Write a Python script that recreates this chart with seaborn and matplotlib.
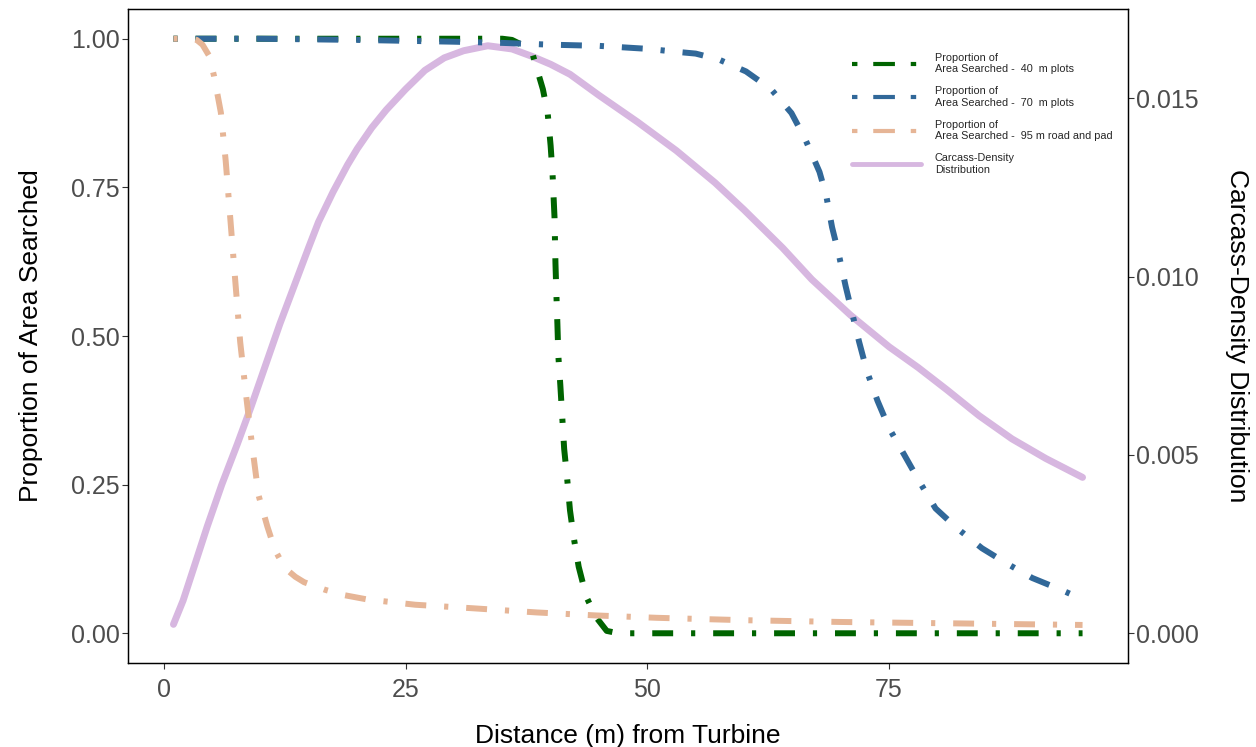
import pandas as pd
import seaborn as sns
from matplotlib import pyplot as plt
from matplotlib.lines import Line2D
import matplotlib.ticker as mtick

# Proportion of area searched, 40 m plots
x_40m = [1, 10, 20, 30, 35, 36, 37, 38.1, 39.2, 39.7, 40.0, 40.2, 40.4, 40.5, 40.6,
         40.7, 40.8, 41.0, 41.2, 41.4, 41.7, 42.0, 42.4, 42.9, 43.7, 44.7, 45.8, 47,
         60, 80, 95]
y_40m = [1.0, 1.0, 1.0, 1.0, 1.0, 0.998, 0.99, 0.976, 0.915, 0.874, 0.82, 0.772, 0.70,
         0.622, 0.568, 0.52, 0.466, 0.418, 0.364, 0.31, 0.262, 0.207, 0.16, 0.112,
         0.061, 0.027, 0.004, 0.0, 0.0, 0.0, 0.0]

# Proportion of area searched, 70 m plots
x_70m = [1, 10, 20, 30, 35, 40, 45, 50, 53, 55, 57.4, 60.2, 62.8, 64.9, 66.3, 67.8,
         68.5, 69.1, 69.8, 70.5, 71.2, 71.9, 72.7, 73.8, 75.0, 76.5, 78.1, 79.8, 82.0,
         84.6, 87.1, 89.8, 92.8, 95]
y_70m = [1.0, 1.0, 0.998, 0.995, 0.993, 0.99, 0.988, 0.983, 0.978, 0.975, 0.965, 0.945,
         0.915, 0.875, 0.832, 0.776, 0.736, 0.683, 0.637, 0.584, 0.537, 0.49, 0.441,
         0.391, 0.345, 0.302, 0.256, 0.21, 0.177, 0.143, 0.118, 0.093, 0.073, 0.057]

# Proportion of area searched, 95 m road and pad
x_95m = [1, 2, 3, 3.4, 4.0, 4.7, 5.2, 5.9, 6.4, 6.9, 7.4, 7.9, 8.6, 9.1, 9.8, 10.7,
         11.5, 12.5, 13.6, 14.5, 16.7, 18.7, 21, 26, 32, 38.6, 44.7, 51, 60, 70, 80, 95]
y_95m = [1.0, 1.0, 1.0, 0.998, 0.99, 0.971, 0.937, 0.876, 0.795, 0.693, 0.591, 0.49,
         0.388, 0.32, 0.232, 0.18, 0.14, 0.11, 0.095, 0.086, 0.073, 0.064, 0.057,
         0.048, 0.042, 0.035, 0.030, 0.026, 0.022, 0.019, 0.017, 0.014]

# Carcass-density distribution (right axis)
x_dens = [1, 2, 3, 4.5, 6, 7.6, 9, 10.5, 12, 13.5, 15, 16, 17.5, 19, 20, 21.5, 23, 25,
          27, 29, 31, 33.5, 36, 38, 40, 42, 45, 49, 53, 57, 60, 64, 67, 71, 75, 78, 81,
          84.3, 87.7, 91.2, 95]
y_dens = [0.00025, 0.00092, 0.00175, 0.00300, 0.00417, 0.00530, 0.00633, 0.00750,
          0.00867, 0.00975, 0.01083, 0.01153, 0.01237, 0.01313, 0.01358, 0.01417,
          0.01467, 0.01525, 0.01578, 0.01613, 0.01633, 0.01647, 0.01638, 0.01618,
          0.01595, 0.01567, 0.01508, 0.01433, 0.01353, 0.01263, 0.01187, 0.01080,
          0.00992, 0.00892, 0.00803, 0.00745, 0.00682, 0.00610, 0.00545, 0.00490,
          0.00437]

labels = ['Proportion of\nArea Searched -  40  m plots',
          'Proportion of\nArea Searched -  70  m plots',
          'Proportion of\nArea Searched -  95 m road and pad',
          'Carcass-Density\nDistribution']
colors = ['#006400', '#316899', '#E6B596', '#D7B7E0']

sec_scale = 60  # left axis value = density * 60

sns.set_theme(style='white')
plt.rcParams['font.family'] = ['Liberation Sans', 'DejaVu Sans']

fig = plt.figure(figsize=(12.56, 7.47), dpi=100)
ax = fig.add_axes([128 / 1256, 1 - 663 / 747, 1000 / 1256, 654 / 747])
ax2 = ax.twinx()

dotdash = (0, (0.7, 3.0, 3.5, 3.0))
series = [(x_40m, y_40m), (x_70m, y_70m), (x_95m, y_95m)]
for (xs, ys), col in zip(series, colors[:3]):
    df = pd.DataFrame({'x': xs, 'y': ys})
    sns.lineplot(data=df, x='x', y='y', ax=ax, color=col, linewidth=4.3,
                 linestyle=dotdash, estimator=None, sort=False)

dens_df = pd.DataFrame({'x': x_dens, 'y': y_dens})
sns.lineplot(data=dens_df, x='x', y='y', ax=ax2, color=colors[3], linewidth=5,
             estimator=None, sort=False)

# keep the dashed lines above the density curve
ax.set_zorder(ax2.get_zorder() + 1)
ax.patch.set_visible(False)

ax.set_xlim(-3.7, 99.7)
ax.set_ylim(-0.05, 1.05)
ax2.set_ylim(-0.05 / sec_scale, 1.05 / sec_scale)
ax.set_xticks([0, 25, 50, 75])
ax.set_yticks([0, 0.25, 0.5, 0.75, 1.0])
ax2.set_yticks([0, 0.005, 0.010, 0.015])
ax.yaxis.set_major_formatter(mtick.FormatStrFormatter('%.2f'))
ax2.yaxis.set_major_formatter(mtick.FormatStrFormatter('%.3f'))

for a in (ax, ax2):
    a.tick_params(axis='both', which='major', length=4, width=0.8, color='#333333',
                  labelsize=18, labelcolor='#4D4D4D', pad=2)
    for sp in a.spines.values():
        sp.set_color('black')
        sp.set_linewidth(0.9)
ax.tick_params(axis='x', bottom=True, pad=7)
ax.tick_params(axis='y', left=True)
ax2.tick_params(axis='y', right=True)

ax.set_xlabel('Distance (m) from Turbine', fontsize=19, color='black', va='center')
ax.set_ylabel('Proportion of Area Searched', fontsize=19, color='black', va='center')
ax2.set_ylabel('Carcass-Density Distribution', fontsize=19, color='black',
               rotation=270, va='center')
ax.xaxis.set_label_coords(0.5, -0.112)
ax.yaxis.set_label_coords(-0.097, 0.5)
ax2.yaxis.set_label_coords(1.109, 0.5)

key_dash = (0, (1.3, 3.8, 5.2, 3.8))
handles = [Line2D([], [], color=c, linewidth=3, linestyle=key_dash) for c in colors[:3]]
handles.append(Line2D([], [], color=colors[3], linewidth=3.5))
ax.legend(handles, labels, loc='upper left', bbox_to_anchor=(0.724, 0.933),
          frameon=False, fontsize=7.8, handlelength=6.4, handletextpad=1.25,
          labelspacing=1.1, borderpad=0, borderaxespad=0)

plt.savefig('out.png', dpi=100)
